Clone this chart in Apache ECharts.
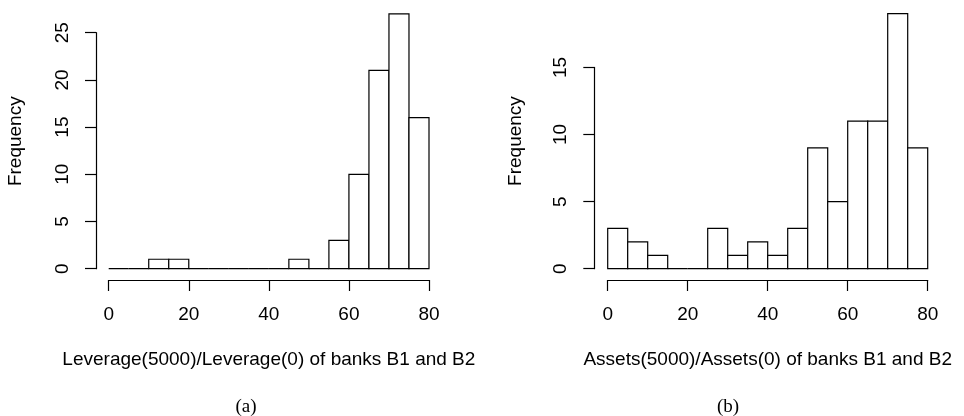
<!DOCTYPE html>
<html>
<head>
<meta charset="utf-8">
<script src="https://cdn.jsdelivr.net/npm/echarts@6/dist/echarts.min.js"></script>
<style>
html,body{margin:0;padding:0;background:#fff;}
#chart{width:964px;height:416px;}
</style>
</head>
<body>
<div id="chart"></div>
<script>
// Bin edges (width 5, 0..80)
const binStarts = [0,5,10,15,20,25,30,35,40,45,50,55,60,65,70,75];
const binWidth = 5;
// (a) Leverage(5000)/Leverage(0) frequencies
const leverageCounts = [0,0,1,1,0,0,0,0,0,1,0,3,10,21,27,16];
// (b) Assets(5000)/Assets(0) frequencies
const assetsCounts = [3,2,1,0,0,3,1,2,1,3,9,5,11,11,19,9];
const xTicks = [0,20,40,60,80];
const leftYMax = 25, rightYMax = 15;
const xTitleA = 'Leverage(5000)/Leverage(0) of banks B1 and B2';
const xTitleB = 'Assets(5000)/Assets(0) of banks B1 and B2';
const yTitle = 'Frequency';
const captionA = '(a)', captionB = '(b)';

const FONT = 'Liberation Sans, Arial, Helvetica, sans-serif';
const FS = 19;

function histData(counts){
  return binStarts.map((s,i)=>[s, s+binWidth, counts[i]]);
}
function renderBar(params, api){
  const lo = api.value(0), hi = api.value(1), c = api.value(2);
  const p0 = api.coord([lo, 0]);
  const p1 = api.coord([hi, c]);
  return {
    type: 'rect',
    shape: {x: p0[0], y: p1[1], width: p1[0]-p0[0], height: p0[1]-p1[1]},
    style: {fill: '#fff', stroke: '#000', lineWidth: 1.2}
  };
}
function xAxisCfg(gridIndex, name){
  return {
    type: 'value', gridIndex, min: 0, max: 80, interval: 20, offset: 11.3,
    name, nameLocation: 'middle', nameGap: 70,
    nameTextStyle: {fontFamily: FONT, fontSize: FS, color: '#000'},
    axisLine: {show: true, onZero: false, lineStyle: {color: '#000', width: 1.2}},
    axisTick: {show: true, length: 11, lineStyle: {color: '#000', width: 1.2}},
    axisLabel: {show: true, margin: 25, fontFamily: FONT, fontSize: FS, color: '#000'},
    splitLine: {show: false}
  };
}
function yAxisCfg(gridIndex, max, offset, gap, shift){
  return {
    type: 'value', gridIndex, min: 0, max, interval: 5, offset,
    name: yTitle, nameLocation: 'middle', nameGap: gap, nameRotate: 90,
    nameTextStyle: {fontFamily: FONT, fontSize: FS, color: '#000', padding: [0,0,0,shift]},
    axisLine: {show: true, onZero: false, lineStyle: {color: '#000', width: 1.2}},
    axisTick: {show: true, length: 11, lineStyle: {color: '#000', width: 1.2}},
    axisLabel: {show: true, rotate: 90, margin: 24, fontFamily: FONT, fontSize: FS, color: '#000'},
    splitLine: {show: false}
  };
}

const chart = echarts.init(document.getElementById('chart'), null, {renderer: 'canvas'});
chart.setOption({
  animation: false,
  backgroundColor: '#fff',
  title: [
    {text: captionA, left: 241, top: 393, textAlign: 'center',
     textStyle: {fontFamily: 'Liberation Serif, serif', fontWeight: 'normal', fontSize: 19, color: '#000'}},
    {text: captionB, left: 723, top: 393, textAlign: 'center',
     textStyle: {fontFamily: 'Liberation Serif, serif', fontWeight: 'normal', fontSize: 19, color: '#000'}}
  ],
  grid: [
    {left: 108.7, top: 32.7, width: 320.3, height: 236, containLabel: false},
    {left: 607.7, top: 67.4, width: 320, height: 201.3, containLabel: false}
  ],
  xAxis: [xAxisCfg(0, xTitleA), xAxisCfg(1, xTitleB)],
  yAxis: [yAxisCfg(0, leftYMax, 12.7, 71, 19), yAxisCfg(1, rightYMax, 13.4, 69, 54)],
  series: [
    {type: 'custom', xAxisIndex: 0, yAxisIndex: 0, data: histData(leverageCounts),
     encode: {x: [0,1], y: 2}, renderItem: renderBar, clip: false},
    {type: 'custom', xAxisIndex: 1, yAxisIndex: 1, data: histData(assetsCounts),
     encode: {x: [0,1], y: 2}, renderItem: renderBar, clip: false}
  ]
});
</script>
</body>
</html>
